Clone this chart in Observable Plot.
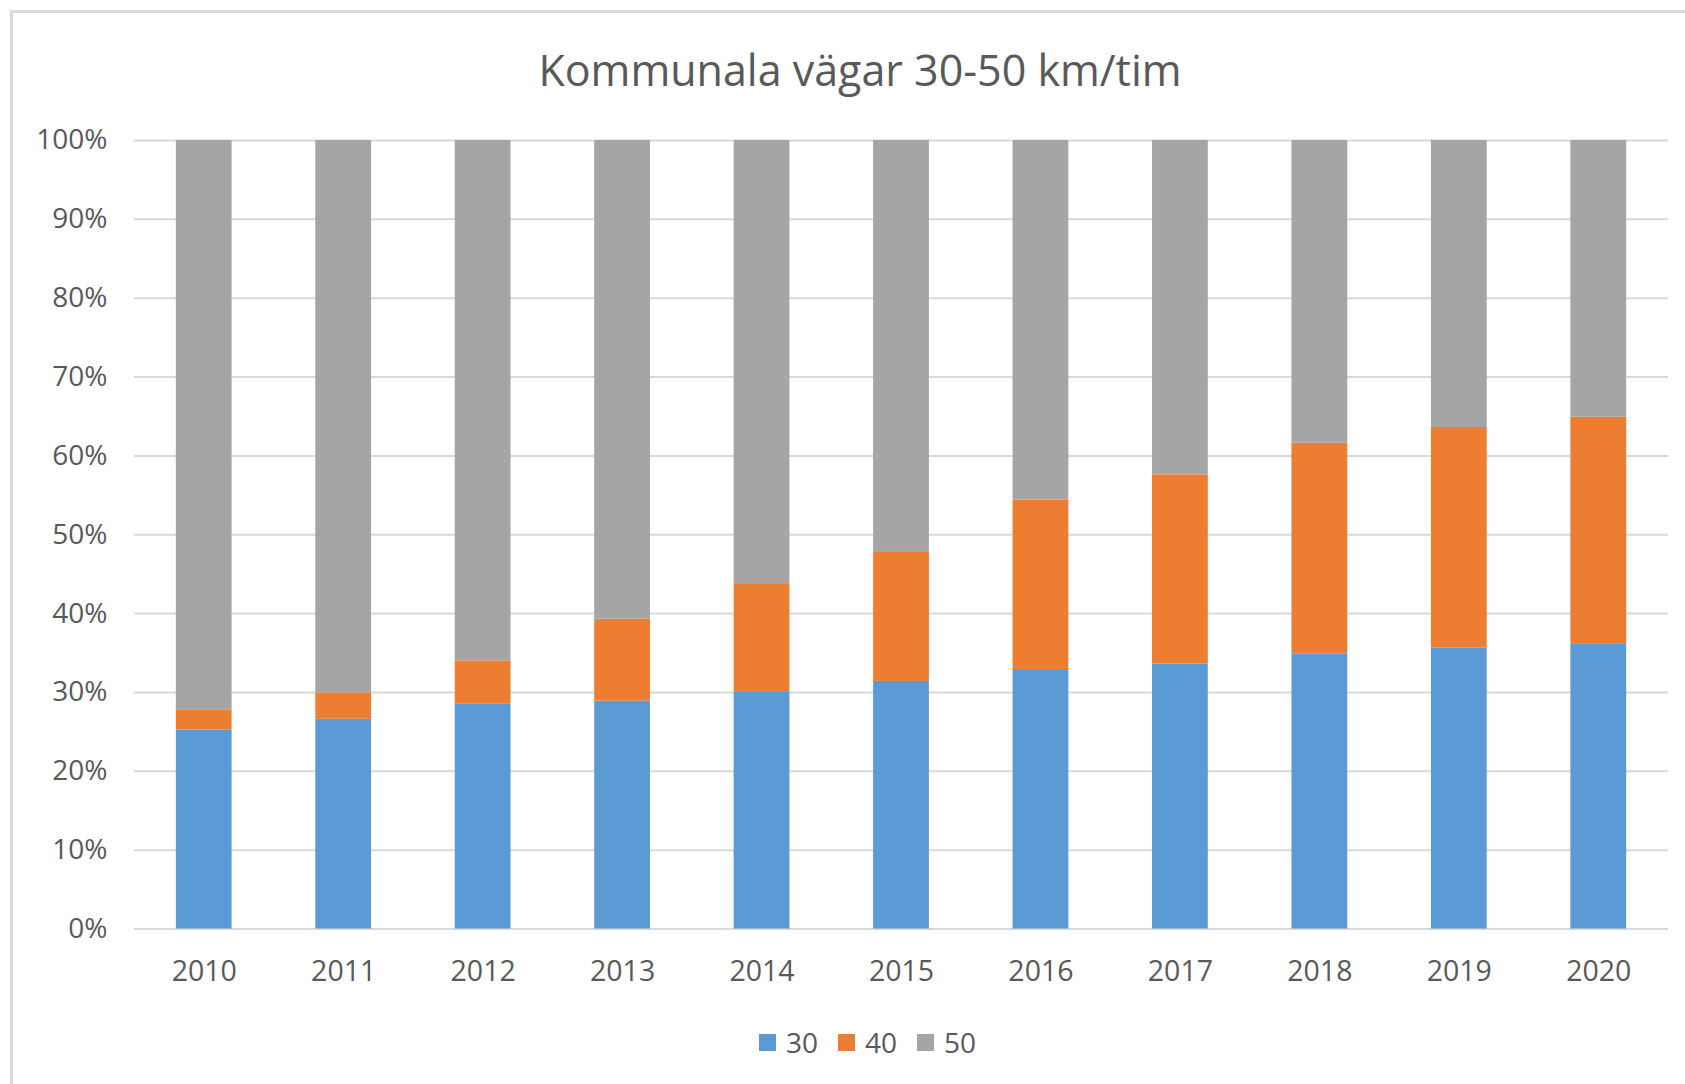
<!DOCTYPE html>
<html>
<head>
<meta charset="utf-8">
<script src="https://cdn.jsdelivr.net/npm/d3@7"></script>
<script src="https://cdn.jsdelivr.net/npm/@observablehq/plot@0.6"></script>
<style>
  html, body { margin: 0; padding: 0; background: #fff; }
  body { width: 1685px; height: 1084px; overflow: hidden; position: relative; font-family: "Open Sans", sans-serif; color: #595959; }
  #frame { position: absolute; left: 10px; top: 10px; width: 1700px; height: 1100px; border-left: 3px solid #d9d9d9; border-top: 3px solid #d9d9d9; box-sizing: border-box; pointer-events: none; }
  #title { height: 100px; line-height: 140px; text-align: center; font-size: 43px; padding-left: 35px; box-sizing: border-box; white-space: nowrap; }
  #chart svg { display: block; }
  #legend { height: 84px; display: flex; justify-content: center; align-items: center; padding-left: 70px; font-size: 28px; }
  .item { display: flex; align-items: center; margin-right: 20px; }
  .sw { width: 17px; height: 17px; margin-right: 10px; }
</style>
</head>
<body>
<div id="frame"></div>
<div id="title">Kommunala vägar 30-50 km/tim</div>
<div id="chart"></div>
<div id="legend"></div>
<script>
const years = ["2010","2011","2012","2013","2014","2015","2016","2017","2018","2019","2020"];
const series = ["30","40","50"];
const colors = ["#5B9BD5","#ED7D31","#A5A5A5"];
// percent shares per year
const share30 = [25.25, 26.6, 28.5, 28.9, 30.0, 31.4, 32.9, 33.6, 34.9, 35.65, 36.1];
const share40 = [2.55, 3.35, 5.5, 10.4, 13.8, 16.45, 21.5, 24.0, 26.7, 27.95, 28.8];
const share50 = [72.2, 70.05, 66.0, 60.7, 56.2, 52.15, 45.6, 42.4, 38.4, 36.4, 35.1];
const yTicks = [0, 0.1, 0.2, 0.3, 0.4, 0.5, 0.6, 0.7, 0.8, 0.9, 1.0];

const shares = {"30": share30, "40": share40, "50": share50};
const data = years.flatMap((year, i) => series.map(s => ({year, speed: s, value: shares[s][i] / 100})));

const chart = Plot.plot({
  width: 1685,
  height: 900,
  marginLeft: 134,
  marginRight: 17,
  marginTop: 40,
  marginBottom: 71.5,
  style: {fontFamily: "Open Sans, sans-serif", color: "#595959", background: "transparent"},
  x: {domain: years, paddingInner: 0.6, paddingOuter: 0.3, round: false, label: null},
  y: {domain: [0, 1], label: null},
  color: {domain: series, range: colors},
  marks: [
    Plot.ruleY(yTicks, {stroke: "#d9d9d9", strokeWidth: 2}),
    Plot.barY(data, {x: "year", y: "value", fill: "speed"}),
    Plot.axisY({ticks: yTicks, tickFormat: d3.format(".0%"), tickSize: 0, tickPadding: 27, fontSize: 28, fill: "#595959", label: null}),
    Plot.axisX({tickSize: 0, tickPadding: 32, fontSize: 28.5, fill: "#595959", label: null})
  ]
});
document.getElementById("chart").appendChild(chart);

const legend = document.getElementById("legend");
series.forEach((s, i) => {
  const item = document.createElement("div");
  item.className = "item";
  const sw = document.createElement("div");
  sw.className = "sw";
  sw.style.background = colors[i];
  const t = document.createElement("span");
  t.textContent = s;
  item.appendChild(sw);
  item.appendChild(t);
  legend.appendChild(item);
});
</script>
</body>
</html>
